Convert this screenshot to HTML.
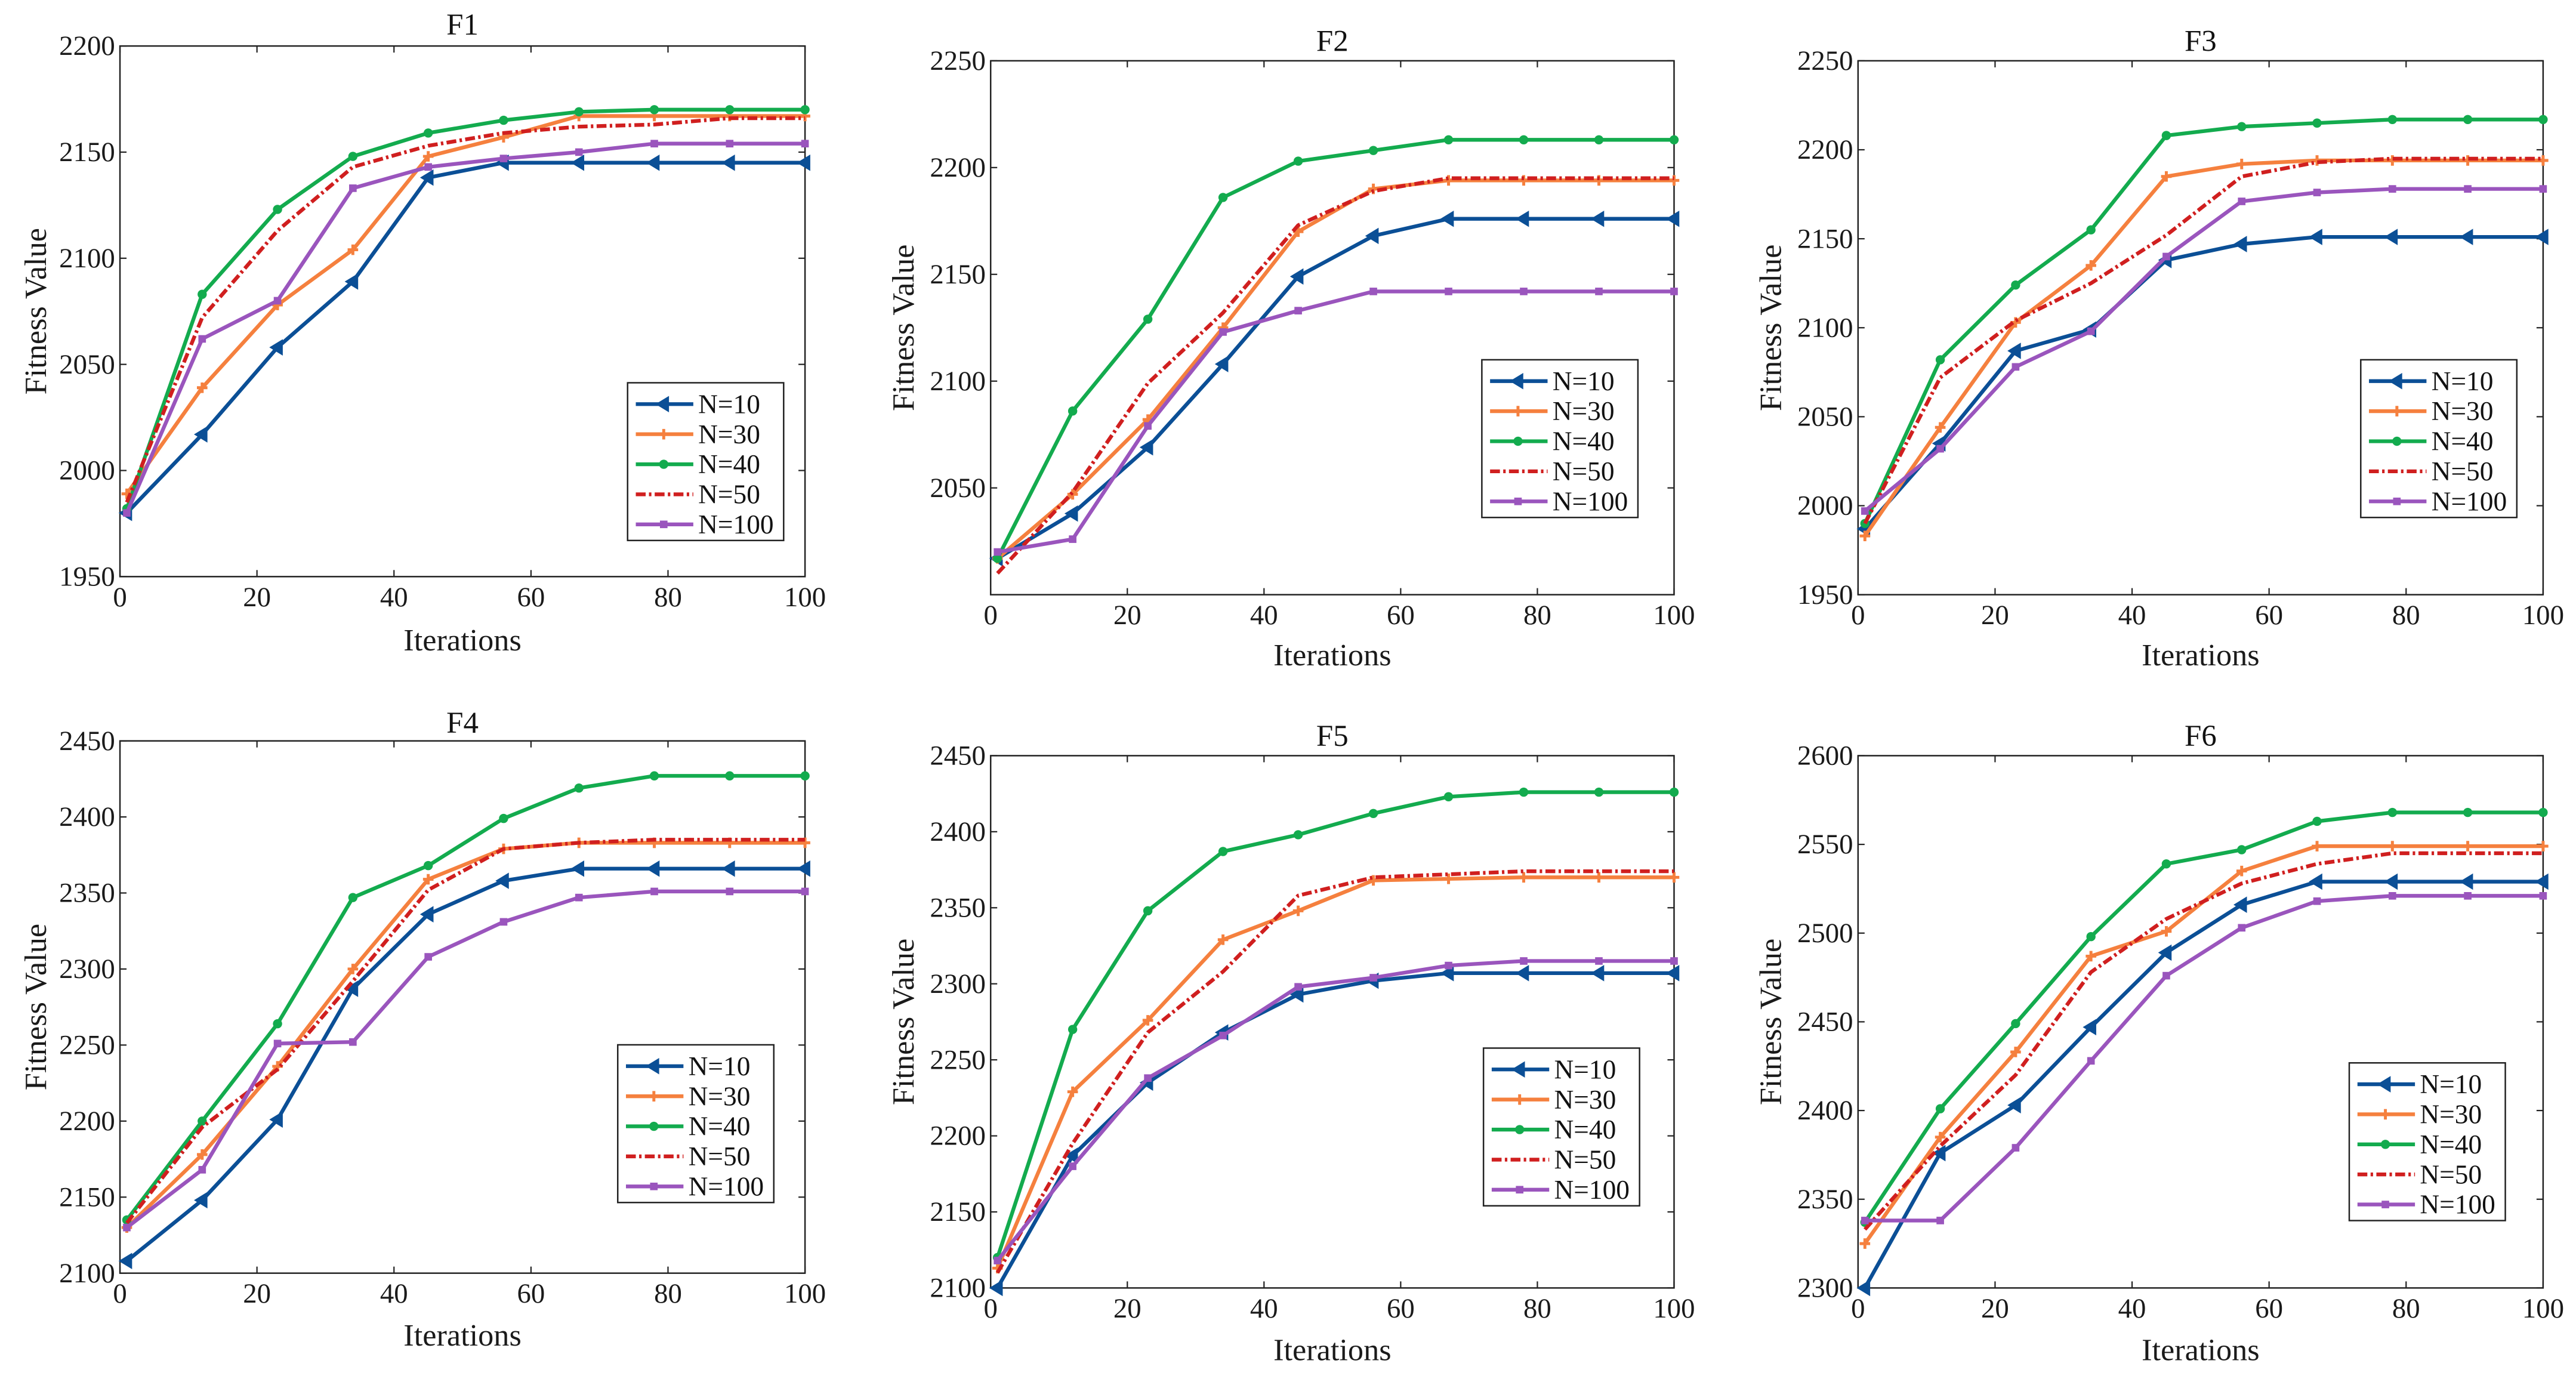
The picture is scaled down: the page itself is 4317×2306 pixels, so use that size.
<!DOCTYPE html>
<html><head><meta charset="utf-8"><style>
html,body{margin:0;padding:0;background:#fff;}
svg{display:block;font-family:"Liberation Serif",serif;}
</style></head><body>
<svg id="chart" width="4317" height="2306" viewBox="0 0 1568 837.6" xmlns="http://www.w3.org/2000/svg"></svg>
<script>
const iterations=[1,12,23,34,45,56,67,78,89,100];
const seriesNames=["N=10","N=30","N=40","N=50","N=100"];
const xTicks=[0,20,40,60,80,100];
const f1N10=[1980,2017,2058,2089,2138,2145,2145,2145,2145,2145];
const f1N30=[1989,2039,2078,2104,2148,2157,2167,2167,2167,2167];
const f1N40=[1982,2083,2123,2148,2159,2165,2169,2170,2170,2170];
const f1N50=[1985,2072,2113,2143,2153,2159,2162,2163,2166,2166];
const f1N100=[1980,2062,2080,2133,2143,2147,2150,2154,2154,2154];
const f2N10=[2017,2038,2069,2108,2149,2168,2176,2176,2176,2176];
const f2N30=[2017,2047,2082,2125,2170,2190,2194,2194,2194,2194];
const f2N40=[2017,2086,2129,2186,2203,2208,2213,2213,2213,2213];
const f2N50=[2010,2048,2099,2132,2173,2189,2195,2195,2195,2195];
const f2N100=[2020,2026,2079,2123,2133,2142,2142,2142,2142,2142];
const f3N10=[1987,2035,2087,2099,2138,2147,2151,2151,2151,2151];
const f3N30=[1983,2044,2103,2135,2185,2192,2194,2194,2194,2194];
const f3N40=[1990,2082,2124,2155,2208,2213,2215,2217,2217,2217];
const f3N50=[1990,2072,2104,2125,2152,2185,2193,2195,2195,2195];
const f3N100=[1997,2032,2078,2098,2140,2171,2176,2178,2178,2178];
const f4N10=[2108,2148,2201,2287,2336,2358,2366,2366,2366,2366];
const f4N30=[2130,2178,2236,2300,2359,2379,2383,2383,2383,2383];
const f4N40=[2135,2200,2264,2347,2368,2399,2419,2427,2427,2427];
const f4N50=[2133,2196,2234,2292,2352,2379,2383,2385,2385,2385];
const f4N100=[2130,2168,2251,2252,2308,2331,2347,2351,2351,2351];
const f5N10=[2100,2187,2235,2268,2293,2302,2307,2307,2307,2307];
const f5N30=[2113,2229,2276,2329,2348,2368,2369,2370,2370,2370];
const f5N40=[2120,2270,2348,2387,2398,2412,2423,2426,2426,2426];
const f5N50=[2110,2195,2268,2308,2358,2370,2372,2374,2374,2374];
const f5N100=[2118,2180,2238,2266,2298,2304,2312,2315,2315,2315];
const f6N10=[2300,2376,2403,2447,2489,2516,2529,2529,2529,2529];
const f6N30=[2325,2385,2433,2487,2501,2535,2549,2549,2549,2549];
const f6N40=[2337,2401,2449,2498,2539,2547,2563,2568,2568,2568];
const f6N50=[2333,2380,2420,2478,2508,2528,2539,2545,2545,2545];
const f6N100=[2338,2338,2379,2428,2476,2503,2518,2521,2521,2521];
const f1Ticks=[1950,2000,2050,2100,2150,2200];
const f2Ticks=[2050,2100,2150,2200,2250];
const f3Ticks=[1950,2000,2050,2100,2150,2200,2250];
const f4Ticks=[2100,2150,2200,2250,2300,2350,2400,2450];
const f5Ticks=[2100,2150,2200,2250,2300,2350,2400,2450];
const f6Ticks=[2300,2350,2400,2450,2500,2550,2600];

const colors=["#0b4f96","#f5803e","#13ab4e","#d01f1f","#9a55bd"];
const NS="http://www.w3.org/2000/svg";
const svg=document.getElementById('chart');
function mk(tag,attrs,parent){const e=document.createElementNS(NS,tag);for(const k in attrs)e.setAttribute(k,attrs[k]);(parent||svg).appendChild(e);return e;}

const panels=[
 {t:"F1",x0:73,x1:490,y0:28,y1:351,ymin:1950,ymax:2200,ticks:f1Ticks,data:[f1N10,f1N30,f1N40,f1N50,f1N100],ty:15,xl:390,yl:22,lg:[382,233]},
 {t:"F2",x0:603,x1:1019,y0:37,y1:362,ymin:2000,ymax:2250,ticks:f2Ticks,data:[f2N10,f2N30,f2N40,f2N50,f2N100],ty:25,xl:399,yl:550,lg:[902,219]},
 {t:"F3",x0:1131,x1:1548,y0:37,y1:362,ymin:1950,ymax:2250,ticks:f3Ticks,data:[f3N10,f3N30,f3N40,f3N50,f3N100],ty:25,xl:399,yl:1078,lg:[1437,219]},
 {t:"F4",x0:73,x1:490,y0:451,y1:775,ymin:2100,ymax:2450,ticks:f4Ticks,data:[f4N10,f4N30,f4N40,f4N50,f4N100],ty:440,xl:813,yl:22,lg:[376,636]},
 {t:"F5",x0:603,x1:1019,y0:460,y1:784,ymin:2100,ymax:2450,ticks:f5Ticks,data:[f5N10,f5N30,f5N40,f5N50,f5N100],ty:448,xl:822,yl:550,lg:[903,638]},
 {t:"F6",x0:1131,x1:1548,y0:460,y1:784,ymin:2300,ymax:2600,ticks:f6Ticks,data:[f6N10,f6N30,f6N40,f6N50,f6N100],ty:448,xl:822,yl:1078,lg:[1430,647]}
];

function marker(g,i,x,y){
 const c=colors[i];let m;
 if(i===0){m=mk('polygon',{points:`${x-5},${y} ${x+3.2},${y-5} ${x+3.2},${y+5}`,fill:c},g);}
 else if(i===1){m=mk('path',{d:`M${x-3.2},${y}H${x+3.2}M${x},${y-3.2}V${y+3.2}`,stroke:c,'stroke-width':1.8},g);}
 else if(i===2){m=mk('circle',{cx:x,cy:y,r:2.8,fill:c},g);}
 else if(i===4){m=mk('rect',{x:x-2.3,y:y-2.3,width:4.6,height:4.6,fill:c},g);}
 if(m){}
}

panels.forEach((p,pi)=>{
 const g=mk('g',{});
 
 
 const sx=v=>p.x0+(v-0)/(100-0)*(p.x1-p.x0);
 const sy=v=>p.y1-(v-p.ymin)/(p.ymax-p.ymin)*(p.y1-p.y0);
 const fr=mk('rect',{x:p.x0,y:p.y0,width:p.x1-p.x0,height:p.y1-p.y0,fill:'#fff',stroke:'#222','stroke-width':0.9},g);
 
 xTicks.forEach(v=>{
  const x=sx(v);
  mk('line',{x1:x,x2:x,y1:p.y1,y2:p.y1-4,stroke:'#222','stroke-width':0.8},g);
  mk('line',{x1:x,x2:x,y1:p.y0,y2:p.y0+4,stroke:'#222','stroke-width':0.8},g);
  const t=mk('text',{x:x,y:p.y1+18,'text-anchor':'middle','font-size':17,fill:'#1a1a1a'},g);
  t.textContent=v;
  
 });
 p.ticks.forEach(v=>{
  const y=sy(v);
  mk('line',{x1:p.x0,x2:p.x0+4,y1:y,y2:y,stroke:'#222','stroke-width':0.8},g);
  mk('line',{x1:p.x1,x2:p.x1-4,y1:y,y2:y,stroke:'#222','stroke-width':0.8},g);
  const t=mk('text',{x:p.x0-3,y:y+5.5,'text-anchor':'end','font-size':17,fill:'#1a1a1a'},g);
  t.textContent=v;
  
 });
 const tt=mk('text',{x:(p.x0+p.x1)/2,y:p.ty+6,'text-anchor':'middle','font-size':18.5,fill:'#111'},g);
 tt.textContent=p.t;
 const xl=mk('text',{x:(p.x0+p.x1)/2,y:p.xl+6,'text-anchor':'middle','font-size':19,fill:'#1a1a1a'},g);
 xl.textContent='Iterations';
 const yc=(p.y0+p.y1)/2;
 const yl=mk('text',{x:p.yl,y:yc,'text-anchor':'middle','font-size':19,fill:'#1a1a1a',transform:`rotate(-90 ${p.yl} ${yc})`,dy:6},g);
 yl.textContent='Fitness Value';
 p.data.forEach((arr,i)=>{
  const pts=arr.map((v,k)=>sx(iterations[k])+','+sy(v)).join(' ');
  const l=mk('polyline',{points:pts,fill:'none',stroke:colors[i],'stroke-width':2.3,'stroke-linejoin':'round'},g);
  if(i===3)l.setAttribute('stroke-dasharray','6 2 1.5 2');
  
  
  arr.forEach((v,k)=>marker(g,i,sx(iterations[k]),sy(v)));
 });
 const lg=mk('g',{},g);
 
 const [lx,ly]=p.lg;
 mk('rect',{x:lx,y:ly,width:95,height:96,fill:'#fff',stroke:'#222','stroke-width':0.9},lg);
 seriesNames.forEach((n,i)=>{
  const y=ly+13+i*18.3;
  const e=mk('g',{},lg);
  
  const ln=mk('line',{x1:lx+5,x2:lx+40,y1:y,y2:y,stroke:colors[i],'stroke-width':2.3},e);
  if(i===3)ln.setAttribute('stroke-dasharray','6 2 1.5 2');
  marker(e,i,lx+22,y);
  const t=mk('text',{x:lx+43,y:y+5.5,'font-size':16.5,fill:'#111'},e);
  t.textContent=n;
 });
});
</script>
</body></html>
